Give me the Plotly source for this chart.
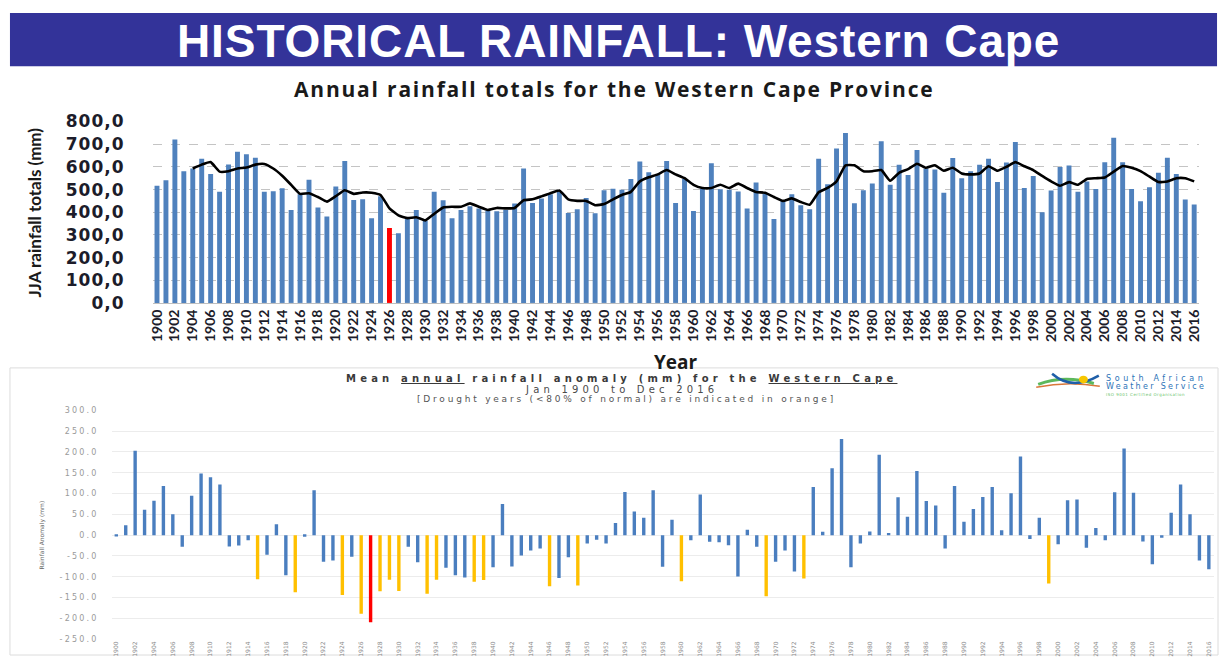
import plotly.graph_objects as go

# ---------------- data ----------------
years = list(range(1900, 2017))

jja_totals = [517, 541, 721, 581, 593, 636, 569, 490, 611, 667,
              656, 640, 490, 493, 506, 410, 479, 543, 421, 381,
              514, 626, 454, 457, 374, 471, 331, 307, 379, 410,
              361, 490, 453, 374, 410, 426, 417, 407, 404, 410,
              439, 593, 441, 461, 479, 493, 397, 413, 463, 396,
              497, 504, 499, 547, 624, 576, 564, 626, 441, 547,
              406, 504, 616, 501, 499, 491, 417, 531, 480, 370,
              450, 479, 431, 413, 636, 524, 681, 750, 440, 497,
              527, 713, 521, 610, 564, 674, 593, 589, 486, 639,
              550, 581, 610, 636, 533, 619, 710, 507, 560, 400,
              496, 600, 606, 490, 536, 503, 621, 729, 621, 503,
              449, 510, 574, 640, 569, 456, 434]

ma_years = list(range(1904, 2017))
ma_values = [593, 610, 621, 579, 581, 593, 597, 610, 613, 593,
             561, 521, 481, 484, 467, 447, 471, 497, 481, 487,
             486, 476, 417, 386, 374, 378, 364, 393, 421, 424,
             424, 439, 424, 410, 419, 417, 419, 453, 457, 470,
             484, 496, 457, 450, 450, 431, 436, 457, 476, 490,
             536, 554, 567, 586, 567, 550, 521, 507, 507, 521,
             507, 526, 507, 489, 486, 467, 450, 461, 445, 433,
             488, 507, 536, 607, 607, 581, 581, 586, 539, 574,
             590, 614, 596, 607, 583, 596, 571, 567, 571, 603,
             583, 600, 621, 603, 586, 560, 536, 517, 533, 521,
             547, 550, 553, 579, 604, 596, 581, 557, 533, 536,
             550, 550, 536]

anomaly = [-3, 24, 203, 61, 83, 118, 50, -28, 95, 148,
           139, 122, -27, -25, -12, -106, -47, 26, -96, -137,
           -4, 108, -64, -61, -144, -52, -189, -209, -135, -107,
           -134, -28, -65, -141, -107, -78, -96, -102, -112, -108,
           -77, 75, -75, -49, -37, -32, -123, -103, -53, -121,
           -20, -11, -20, 29, 104, 57, 42, 108, -76, 37,
           -111, -12, 98, -16, -17, -24, -99, 13, -28, -147,
           -64, -37, -87, -104, 116, 8, 161, 231, -77, -20,
           9, 193, 5, 91, 44, 154, 82, 71, -32, 118,
           32, 63, 92, 116, 12, 101, 189, -9, 42, -116,
           -22, 84, 86, -30, 17, -12, 103, 208, 102, -15,
           -70, -6, 54, 122, 50, -61, -82]

drought_years = [1915, 1919, 1924, 1926, 1928, 1929, 1930, 1933, 1934,
                 1938, 1939, 1946, 1949, 1960, 1969, 1973, 1999]
highlight_year_totals = 1926
highlight_year_anomaly = 1927

tick_years = years[::2]
tick_year_labels = [str(y) for y in tick_years]
top_y_ticks = [0, 100, 200, 300, 400, 500, 600, 700, 800]
top_y_labels = ["0,0", "100,0", "200,0", "300,0", "400,0", "500,0", "600,0", "700,0", "800,0"]
anom_y_ticks = [-250, -200, -150, -100, -50, 0, 50, 100, 150, 200, 250, 300]
anom_y_labels = ["-250.0", "-200.0", "-150.0", "-100.0", "-50.0", "0.0",
                 "50.0", "100.0", "150.0", "200.0", "250.0", "300.0"]

# ---------------- helpers ----------------
W, H = 1225, 666


def px(x):
    return x / W


def py(y):
    return 1 - y / H


BLUE = "#4F81BD"
BLUE2 = "#4A7EBF"
ORANGE = "#FFC000"
RED = "#FF0000"

top_colors = [RED if y == highlight_year_totals else BLUE for y in years]
anom_colors = [RED if y == highlight_year_anomaly else (ORANGE if y in drought_years else BLUE2)
               for y in years]

fig = go.Figure()
fig.add_trace(go.Bar(x=years, y=jja_totals, width=0.55,
                     marker=dict(color=top_colors, line=dict(width=0)),
                     xaxis="x", yaxis="y", showlegend=False, hoverinfo="skip"))
fig.add_trace(go.Scatter(x=ma_years, y=ma_values, mode="lines",
                         line=dict(color="black", width=2.6, shape="spline", smoothing=0.4),
                         xaxis="x", yaxis="y", showlegend=False, hoverinfo="skip"))
fig.add_trace(go.Bar(x=years, y=anomaly, width=0.36,
                     marker=dict(color=anom_colors, line=dict(width=0)),
                     xaxis="x2", yaxis="y2", showlegend=False, hoverinfo="skip"))


def spaced(txt, ls):
    return '<span style="letter-spacing:%spx">%s</span>' % (ls, txt)


fig.update_layout(
    width=W, height=H, autosize=False,
    margin=dict(l=0, r=0, t=0, b=0),
    paper_bgcolor="white", plot_bgcolor="white",
    showlegend=False,
    xaxis=dict(domain=[px(148.5), px(1201.5)], range=[1899.5, 2016.5], anchor="y",
               tickmode="array", tickvals=tick_years, ticktext=tick_year_labels,
               tickangle=-90, tickfont=dict(family="Lato", size=14, color="#1c1c2a", weight="bold"),
               showgrid=False, zeroline=False, showline=True, linecolor="#bfbfbf", linewidth=1,
               ticks="", fixedrange=True),
    yaxis=dict(domain=[py(302), py(115)], range=[0, 800], anchor="x",
               tickmode="array", tickvals=top_y_ticks,
               ticktext=[spaced(t, 1) for t in top_y_labels],
               tickfont=dict(family="DejaVu Sans", size=17, color="#1c1c2a", weight="bold"),
               showgrid=True, gridcolor="#c4c4c4", griddash="dash", gridwidth=1,
               zeroline=False, showline=False, ticks="", ticklabelstandoff=27,
               fixedrange=True),
    xaxis2=dict(domain=[px(107.3), px(1216.5)], range=[1899.5, 2016.5], anchor="y2",
                tickmode="array", tickvals=tick_years, ticktext=tick_year_labels,
                tickangle=-90, tickfont=dict(family="DejaVu Sans", size=6, color="#8a8a8a"),
                showgrid=False, zeroline=False, showline=False, ticks="", fixedrange=True),
    yaxis2=dict(domain=[py(648.7), py(412.7)], range=[-250, 300], anchor="x2",
                tickmode="array", tickvals=anom_y_ticks,
                ticktext=[spaced(t, 2.2) for t in anom_y_labels],
                tickfont=dict(family="DejaVu Sans", size=8, color="#9a9a9a"),
                showgrid=True, gridcolor="#ececec", gridwidth=1,
                zeroline=False, showline=False, ticks="", ticklabelstandoff=12,
                fixedrange=True),
)

shapes = []
# banner
shapes.append(dict(type="rect", xref="paper", yref="paper",
                   x0=px(5), x1=px(1220), y0=py(58), y1=py(3),
                   fillcolor="#333399", line=dict(width=0), layer="below"))
# bottom panel frame
shapes.append(dict(type="rect", xref="paper", yref="paper",
                   x0=px(5), x1=px(1221), y0=py(665), y1=py(369),
                   fillcolor="rgba(0,0,0,0)", line=dict(color="#dcdcdc", width=1), layer="below"))


def qpath(p0, c, p1):
    return "M %f,%f Q %f,%f %f,%f" % (px(p0[0]), py(p0[1]), px(c[0]), py(c[1]), px(p1[0]), py(p1[1]))


# logo swooshes
shapes.append(dict(type="path", xref="paper", yref="paper",
                   path=qpath((1038, 389), (1070, 382), (1102, 388)),
                   line=dict(color="#d9773a", width=1.5)))
shapes.append(dict(type="path", xref="paper", yref="paper",
                   path=qpath((1040, 386), (1066, 376), (1096, 385)),
                   line=dict(color="#5cb85c", width=3)))
shapes.append(dict(type="path", xref="paper", yref="paper",
                   path=qpath((1054, 375), (1074, 393), (1101, 377)),
                   line=dict(color="#1f5fa8", width=2.5)))
shapes.append(dict(type="circle", xref="paper", yref="paper",
                   x0=px(1081), x1=px(1090), y0=py(385), y1=py(377),
                   fillcolor="#f7c600", line=dict(width=0)))
fig.update_layout(shapes=shapes)

ann = []


def add_text(x, y, text, size, color, family="DejaVu Sans", weight="normal", angle=0,
             xanchor="center"):
    ann.append(dict(xref="paper", yref="paper", x=px(x), y=py(y), text=text,
                    showarrow=False, xanchor=xanchor, yanchor="middle", textangle=angle,
                    font=dict(family=family, size=size, color=color, weight=weight)))


add_text(618, 32, spaced("HISTORICAL RAINFALL: Western Cape", 0.9), 46, "white",
         family="Liberation Sans", weight="bold")
add_text(613, 81, spaced("Annual rainfall totals for the Western Cape Province", 1.8), 21, "#1a1a1a",
         family="Open Sans", weight="bold")
add_text(30, 209, "JJA rainfall totals (mm)", 17, "#1a1a1a", family="Lato", weight="bold", angle=-90)
add_text(675, 363, "Year", 19, "#1a1a1a", family="Open Sans", weight="bold")

add_text(621, 380,
         spaced('Mean <span style="text-decoration:underline">annual</span> rainfall anomaly (mm) '
                'for the <span style="text-decoration:underline">Western Cape</span>', 4.2),
         10, "#3a3a3a", weight="bold")
add_text(621, 391, spaced("Jan 1900 to Dec 2016", 4.2), 10, "#4a4a4a")
add_text(626, 401, spaced("[Drought years (&lt;80% of normal) are indicated in orange]", 2.8),
         9, "#555555")
add_text(37, 541, "Rainfall Anomaly (mm)", 6, "#666666", angle=-90)

add_text(1106, 380, spaced("South African", 3.6), 8, "#2c73b8", xanchor="left")
add_text(1106, 388, spaced("Weather Service", 2.3), 8, "#2c73b8", xanchor="left")
add_text(1106, 396, spaced("ISO 9001 Certified Organisation", 0.5), 4, "#6abf69", xanchor="left")

fig.update_layout(annotations=ann)

fig.write_html(
    "out.html",
    config={"displayModeBar": False},
    post_script="document.body.style.margin='0';document.body.style.overflow='hidden';"
                "document.documentElement.style.overflow='hidden';",
)
